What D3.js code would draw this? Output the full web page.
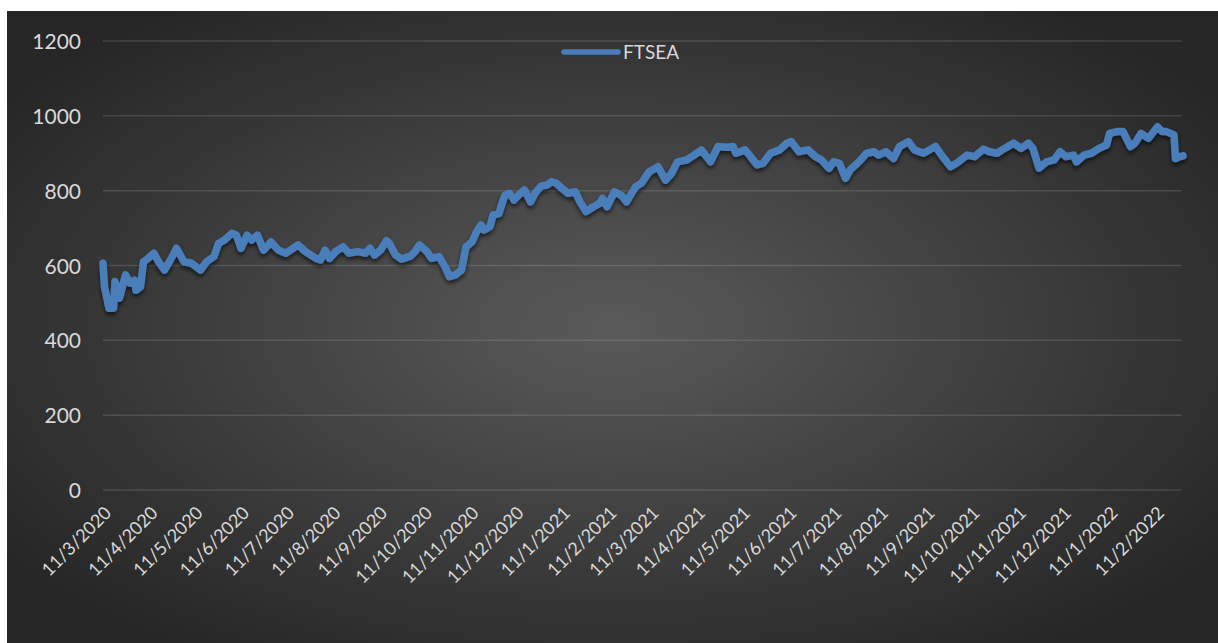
<!DOCTYPE html>
<html><head><meta charset="utf-8">
<script src="https://cdn.jsdelivr.net/npm/d3@7"></script>
<style>html,body{margin:0;padding:0;background:#ffffff;} svg{display:block;}</style>
</head><body>
<svg id="chart" width="1218" height="643"></svg>
<script>
const seriesName = "FTSEA";
const dates = [
"2020-03-11","2020-03-12","2020-03-15","2020-03-18","2020-03-19","2020-03-22","2020-03-26","2020-03-29","2020-04-01","2020-04-02",
"2020-04-05","2020-04-07","2020-04-10","2020-04-14","2020-04-17","2020-04-21","2020-04-25","2020-04-29","2020-05-04","2020-05-09",
"2020-05-15","2020-05-19","2020-05-24","2020-05-27","2020-05-31","2020-06-05","2020-06-08","2020-06-11","2020-06-15","2020-06-18",
"2020-06-22","2020-06-26","2020-07-01","2020-07-06","2020-07-11","2020-07-19","2020-07-24","2020-07-31","2020-08-03","2020-08-06",
"2020-08-09","2020-08-13","2020-08-18","2020-08-22","2020-08-28","2020-09-02","2020-09-05","2020-09-08","2020-09-12","2020-09-16",
"2020-09-18","2020-09-22","2020-09-26","2020-10-02","2020-10-05","2020-10-08","2020-10-13","2020-10-16","2020-10-21","2020-10-25",
"2020-10-28","2020-11-01","2020-11-05","2020-11-08","2020-11-12","2020-11-15","2020-11-18","2020-11-20","2020-11-24","2020-11-26",
"2020-11-30","2020-12-02","2020-12-04","2020-12-07","2020-12-10","2020-12-13","2020-12-17","2020-12-21","2020-12-24","2020-12-28",
"2021-01-01","2021-01-04","2021-01-07","2021-01-11","2021-01-15","2021-01-20","2021-01-23","2021-01-27","2021-02-01","2021-02-05",
"2021-02-07","2021-02-10","2021-02-15","2021-02-20","2021-02-23","2021-03-01","2021-03-05","2021-03-10","2021-03-16","2021-03-21",
"2021-03-25","2021-03-29","2021-04-04","2021-04-09","2021-04-14","2021-04-20","2021-04-25","2021-05-01","2021-05-05","2021-05-07",
"2021-05-13","2021-05-16","2021-05-21","2021-05-25","2021-05-30","2021-06-05","2021-06-10","2021-06-13","2021-06-18","2021-06-24",
"2021-06-29","2021-07-03","2021-07-08","2021-07-11","2021-07-15","2021-07-19","2021-07-22","2021-07-28","2021-08-02","2021-08-07",
"2021-08-10","2021-08-15","2021-08-20","2021-08-24","2021-08-30","2021-09-03","2021-09-09","2021-09-17","2021-09-21","2021-09-27",
"2021-10-01","2021-10-08","2021-10-13","2021-10-19","2021-10-23","2021-10-28","2021-11-02","2021-11-08","2021-11-13","2021-11-18",
"2021-11-21","2021-11-25","2021-11-30","2021-12-05","2021-12-09","2021-12-13","2021-12-18","2021-12-20","2021-12-25","2021-12-30",
"2022-01-04","2022-01-09","2022-01-11","2022-01-16","2022-01-20","2022-01-25","2022-01-28","2022-02-01","2022-02-06","2022-02-12",
"2022-02-15","2022-02-18","2022-02-23","2022-02-24","2022-02-27","2022-03-01"
];
const values = [
606,543,486,486,557,513,575,553,561,534,
543,610,619,633,610,588,615,646,610,606,
588,610,624,659,668,686,681,646,681,668,
681,641,663,641,633,655,637,619,615,641,
619,637,650,633,637,633,646,628,641,666,
659,628,617,625,637,655,637,619,624,597,
570,575,588,650,663,690,708,695,704,735,
739,766,788,793,775,788,802,770,793,812,
815,824,820,806,793,797,770,744,757,766,
779,757,797,786,770,810,820,850,864,828,
846,877,882,895,909,877,918,916,918,900,
909,895,869,873,900,909,927,931,904,909,
891,882,860,877,873,833,855,877,900,904,
895,904,886,918,931,909,900,918,895,864,
873,895,891,911,904,900,913,927,913,927,
913,860,877,882,904,891,895,877,895,900,
913,922,953,958,958,918,927,953,940,971,
958,958,949,886,891,893
];
const yTicks = [0, 200, 400, 600, 800, 1000, 1200];
const xTickLabels = [
"11/3/2020","11/4/2020","11/5/2020","11/6/2020","11/7/2020","11/8/2020","11/9/2020","11/10/2020","11/11/2020","11/12/2020",
"11/1/2021","11/2/2021","11/3/2021","11/4/2021","11/5/2021","11/6/2021","11/7/2021","11/8/2021","11/9/2021","11/10/2021",
"11/11/2021","11/12/2021","11/1/2022","11/2/2022"
];
const xDomain = ["2020-03-11", "2022-03-01"];

const svg = d3.select("#chart");
const W = 1218, H = 643;
const parseISO = d3.timeParse("%Y-%m-%d");
const parseLbl = d3.timeParse("%d/%m/%Y");
const font = "Lato, 'Open Sans', sans-serif";
const txtCol = "#d9d9d9";

const defs = svg.append("defs");
const grad = defs.append("radialGradient").attr("id","bg")
  .attr("cx","0.5").attr("cy","0.5").attr("r","0.62");
grad.append("stop").attr("offset","0").attr("stop-color","#5a5a5a");
grad.append("stop").attr("offset","1").attr("stop-color","#262626");
const sh = defs.append("filter").attr("id","shadow").attr("x","-5%").attr("y","-20%").attr("width","110%").attr("height","140%");
sh.append("feDropShadow").attr("dx",0).attr("dy",3).attr("stdDeviation",2).attr("flood-color","#000").attr("flood-opacity",0.6);

svg.append("rect").attr("x",7).attr("y",11).attr("width",W-7).attr("height",H-11).attr("fill","url(#bg)");

const x = d3.scaleTime().domain(xDomain.map(parseISO)).range([103, 1183]);
const y = d3.scaleLinear().domain([0, 1200]).range([490, 41]);

// gridlines
svg.append("g").selectAll("line").data(yTicks).join("line")
  .attr("x1",103).attr("x2",1182)
  .attr("y1",d=>y(d)).attr("y2",d=>y(d))
  .attr("stroke","rgba(217,217,217,0.16)").attr("stroke-width",1.5);

// y labels
const yAxis = d3.axisLeft(y).tickValues(yTicks).tickSize(0).tickPadding(0).tickFormat(d3.format("d"));
const gy = svg.append("g").attr("transform","translate(81,0)").call(yAxis);
gy.select(".domain").remove();
gy.selectAll("text").attr("font-family",font).attr("font-size",21).attr("fill",txtCol).attr("dy","0.36em");

// x labels
const xAxis = d3.axisBottom(x).tickValues(xTickLabels.map(parseLbl)).tickSize(0).tickFormat((d,i)=>xTickLabels[i]);
const gx = svg.append("g").attr("transform","translate(0,490)").call(xAxis);
gx.select(".domain").remove();
gx.selectAll("text").attr("font-family",font).attr("font-size",18).attr("fill",txtCol)
  .attr("text-anchor","end").attr("dy",null).attr("y",null)
  .attr("transform","translate(9,24) rotate(-45)");

// line
const line = d3.line().x((d,i)=>x(parseISO(dates[i]))).y((d)=>y(d)).curve(d3.curveLinear);
svg.append("path").datum(values).attr("d",line)
  .attr("fill","none").attr("stroke","#4a7ebb").attr("stroke-width",7.5)
  .attr("stroke-linejoin","round").attr("stroke-linecap","round")
  .attr("filter","url(#shadow)");

// legend
const lg = svg.append("g");
lg.append("line").attr("x1",564).attr("x2",618).attr("y1",52).attr("y2",52)
  .attr("stroke","#4a7ebb").attr("stroke-width",5.5).attr("stroke-linecap","round");
lg.append("text").attr("x",623).attr("y",59).text(seriesName)
  .attr("font-family",font).attr("font-size",19).attr("fill",txtCol);
</script>
</body></html>
